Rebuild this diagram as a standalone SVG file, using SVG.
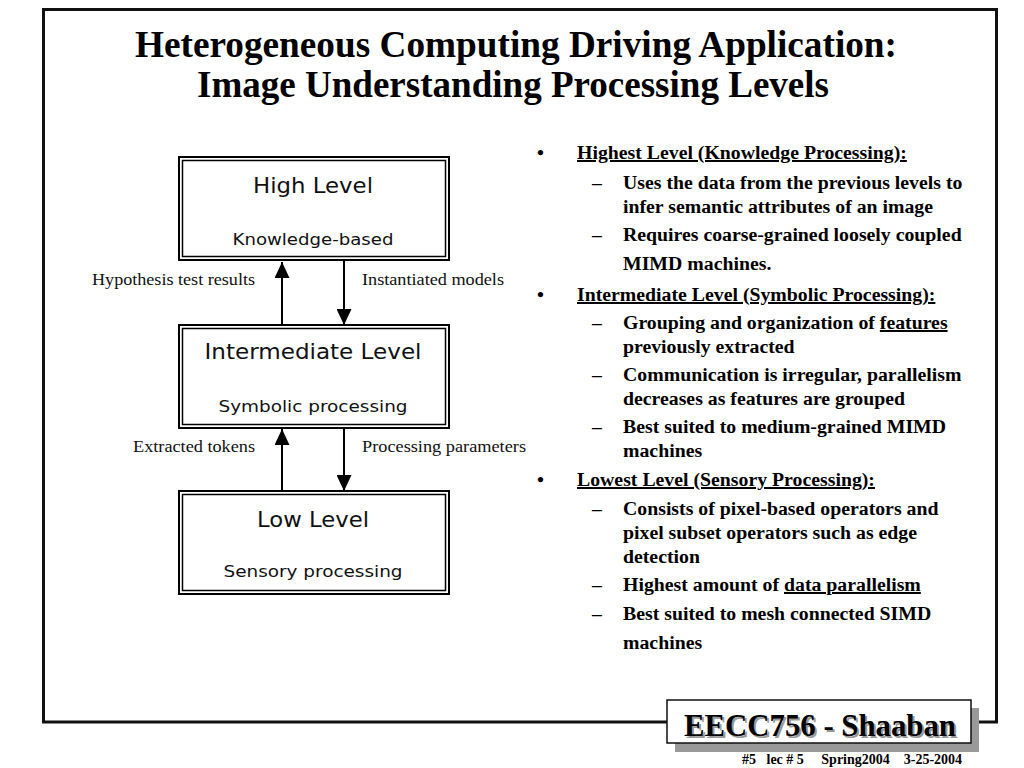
<svg xmlns="http://www.w3.org/2000/svg" width="1024" height="768" viewBox="0 0 1024 768">
<defs>
<marker id="ah" viewBox="0 0 16 15" refX="16" refY="7.5" markerWidth="16" markerHeight="15" markerUnits="userSpaceOnUse" orient="auto">
<path d="M0,0 L16,7.5 L0,15 Z" fill="#000"/>
</marker>
</defs>
<style>
.box{fill:#fff;stroke:#000;stroke-width:2}
.inner{fill:none;stroke:#000;stroke-width:1.5}
.t1{font-family:"DejaVu Sans",Verdana,sans-serif;font-size:21px;fill:#111}
.t2{font-family:"DejaVu Sans",Verdana,sans-serif;font-size:16px;fill:#111}
.lbl{font-family:"Liberation Serif","Times New Roman",serif;font-size:16px;fill:#111}
.conn{stroke:#000;stroke-width:2;fill:none;marker-end:url(#ah)}
.title{font-family:"Liberation Serif","Times New Roman",serif;font-weight:bold;font-size:37px;fill:#000}
.b{font-family:"Liberation Serif","Times New Roman",serif;font-weight:bold;font-size:19.8px;fill:#000}
.u{text-decoration:underline}
</style>
<rect width="1024" height="768" fill="#fff"/>
<rect x="43.5" y="9.5" width="953" height="712.5" fill="none" stroke="#111" stroke-width="3"/>
<g id="title">
<text class="title" x="516" y="57" text-anchor="middle" textLength="762" lengthAdjust="spacingAndGlyphs">Heterogeneous Computing Driving Application:</text>
<text class="title" x="513" y="97" text-anchor="middle" textLength="632" lengthAdjust="spacingAndGlyphs">Image Understanding Processing Levels</text>
</g>
<g id="high">
<rect class="box" x="179" y="157" width="270" height="103"/>
<rect class="inner" x="182.5" y="160.5" width="263" height="96"/>
<text class="t1" x="313" y="193" text-anchor="middle" textLength="120" lengthAdjust="spacingAndGlyphs">High Level</text>
<text class="t2" x="313" y="245" text-anchor="middle" textLength="161" lengthAdjust="spacingAndGlyphs">Knowledge-based</text>
</g>
<g id="intermediate">
<rect class="box" x="179" y="325" width="270" height="103"/>
<rect class="inner" x="182.5" y="328.5" width="263" height="96"/>
<text class="t1" x="313" y="359" text-anchor="middle" textLength="217" lengthAdjust="spacingAndGlyphs">Intermediate Level</text>
<text class="t2" x="313" y="412" text-anchor="middle" textLength="189" lengthAdjust="spacingAndGlyphs">Symbolic processing</text>
</g>
<g id="low">
<rect class="box" x="179" y="491" width="270" height="103"/>
<rect class="inner" x="182.5" y="494.5" width="263" height="96"/>
<text class="t1" x="313" y="527" text-anchor="middle" textLength="112" lengthAdjust="spacingAndGlyphs">Low Level</text>
<text class="t2" x="313" y="577" text-anchor="middle" textLength="179" lengthAdjust="spacingAndGlyphs">Sensory processing</text>
</g>
<g id="connectors">
<line class="conn" x1="282" y1="325" x2="282" y2="262"/>
<line class="conn" x1="344" y1="260" x2="344" y2="325"/>
<line class="conn" x1="282" y1="491" x2="282" y2="429"/>
<line class="conn" x1="344" y1="428" x2="344" y2="491"/>
<text class="lbl" x="255" y="285" text-anchor="end" textLength="163" lengthAdjust="spacingAndGlyphs">Hypothesis test results</text>
<text class="lbl" x="362" y="285" textLength="142" lengthAdjust="spacingAndGlyphs">Instantiated models</text>
<text class="lbl" x="255" y="452" text-anchor="end" textLength="122" lengthAdjust="spacingAndGlyphs">Extracted tokens</text>
<text class="lbl" x="362" y="452" textLength="164" lengthAdjust="spacingAndGlyphs">Processing parameters</text>
</g>
<g id="bullets">
<text class="b" x="537" y="159">•</text>
<text class="b u" x="577" y="159">Highest Level (Knowledge Processing):</text>
<text class="b" x="592" y="189">–</text>
<text class="b" x="623" y="189">Uses the data from the previous levels to</text>
<text class="b" x="623" y="213">infer semantic attributes of an image</text>
<text class="b" x="592" y="241">–</text>
<text class="b" x="623" y="241">Requires coarse-grained loosely coupled</text>
<text class="b" x="623" y="270">MIMD machines.</text>
<text class="b" x="537" y="301">•</text>
<text class="b u" x="577" y="301">Intermediate Level (Symbolic Processing):</text>
<text class="b" x="592" y="329">–</text>
<text class="b" x="623" y="329">Grouping and organization of <tspan class="u">features</tspan></text>
<text class="b" x="623" y="353">previously extracted</text>
<text class="b" x="592" y="381">–</text>
<text class="b" x="623" y="381">Communication is irregular, parallelism</text>
<text class="b" x="623" y="405">decreases as features are grouped</text>
<text class="b" x="592" y="433">–</text>
<text class="b" x="623" y="433">Best suited to medium-grained MIMD</text>
<text class="b" x="623" y="457">machines</text>
<text class="b" x="537" y="486">•</text>
<text class="b u" x="577" y="486">Lowest Level (Sensory Processing):</text>
<text class="b" x="592" y="515">–</text>
<text class="b" x="623" y="515">Consists of pixel-based operators and</text>
<text class="b" x="623" y="539">pixel subset operators such as edge</text>
<text class="b" x="623" y="563">detection</text>
<text class="b" x="592" y="591">–</text>
<text class="b" x="623" y="591">Highest amount of <tspan class="u">data parallelism</tspan></text>
<text class="b" x="592" y="620">–</text>
<text class="b" x="623" y="620">Best suited to mesh connected SIMD</text>
<text class="b" x="623" y="649">machines</text>
</g>
<g id="footer">
<rect x="675" y="708" width="304" height="44" fill="#999"/>
<rect x="667" y="700" width="304" height="43" fill="#fff" stroke="#111" stroke-width="1.5"/>
<text x="822" y="738" text-anchor="middle" font-family="Liberation Serif,'Times New Roman',serif" font-weight="bold" font-size="31" fill="#999" textLength="272" lengthAdjust="spacingAndGlyphs">EECC756 - Shaaban</text>
<text x="820" y="736" text-anchor="middle" font-family="Liberation Serif,'Times New Roman',serif" font-weight="bold" font-size="31" fill="#000" textLength="272" lengthAdjust="spacingAndGlyphs">EECC756 - Shaaban</text>
<text x="742" y="764" font-family="Liberation Serif,'Times New Roman',serif" font-weight="bold" font-size="14" fill="#000" xml:space="preserve">#5   lec # 5     Spring2004    3-25-2004</text>
</g>
</svg>
